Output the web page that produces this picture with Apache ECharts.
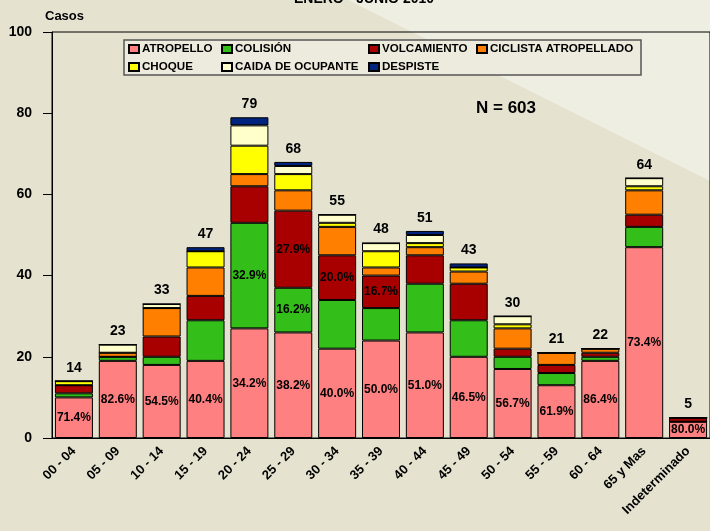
<!DOCTYPE html>
<html>
<head>
<meta charset="utf-8">
<script src="https://cdn.jsdelivr.net/npm/echarts@6/dist/echarts.min.js"></script>
<style>
  html, body { margin: 0; padding: 0; background: #e5e3d0; }
  #chart { width: 710px; height: 531px; }
</style>
</head>
<body>
<div id="chart"></div>
<script>
const categories = ["00 - 04", "05 - 09", "10 - 14", "15 - 19", "20 - 24", "25 - 29", "30 - 34",
  "35 - 39", "40 - 44", "45 - 49", "50 - 54", "55 - 59", "60 - 64", "65 y Mas", "Indeterminado"];

const atropello   = [10, 19, 18, 19, 27, 26, 22, 24, 26, 20, 17, 13, 19, 47, 4];
const colision    = [1, 1, 2, 10, 26, 11, 12, 8, 12, 9, 3, 3, 1, 5, 0];
const volcamiento = [2, 0, 5, 6, 9, 19, 11, 8, 7, 9, 2, 2, 1, 3, 1];
const ciclista    = [0, 1, 7, 7, 3, 5, 7, 2, 2, 3, 5, 3, 1, 6, 0];
const choque      = [1, 0, 0, 4, 7, 4, 1, 4, 1, 1, 1, 0, 0, 1, 0];
const caida       = [0, 2, 1, 0, 5, 2, 2, 2, 2, 0, 2, 0, 0, 2, 0];
const despiste    = [0, 0, 0, 1, 2, 1, 0, 0, 1, 1, 0, 0, 0, 0, 0];

// which bars show a percent label, per series
const labeledAtropello = categories.map((_, i) => i);
const labeledColision = [4, 5];
const labeledVolcamiento = [5, 6, 7];

const yTicks = [0, 20, 40, 60, 80, 100];

const FONT = "'Liberation Sans', Arial, sans-serif";

const allSeries = [atropello, colision, volcamiento, ciclista, choque, caida, despiste];
const totals = categories.map((_, i) => allSeries.reduce((s, arr) => s + arr[i], 0));
const grandTotal = totals.reduce((a, b) => a + b, 0);

function pctLabel(values, labeled) {
  return {
    show: true,
    position: "inside",
    color: "#000",
    fontWeight: "bold",
    fontSize: 12,
    fontFamily: FONT,
    formatter: (p) => labeled.includes(p.dataIndex)
      ? (values[p.dataIndex] / totals[p.dataIndex] * 100).toFixed(1) + "%"
      : "",
  };
}

function bar(name, data, color, label) {
  return {
    name,
    type: "bar",
    stack: "casos",
    data,
    barWidth: 38,
    itemStyle: { color, borderColor: "#000", borderWidth: 1 },
    label: label || { show: false },
  };
}

const chart = echarts.init(document.getElementById("chart"), null, { renderer: "canvas" });

const legendText = {
  color: "#000", fontWeight: "bold", fontSize: 11.6, fontFamily: FONT, lineHeight: 12,
  padding: [0, 0, 0, -2],
};
function legendCol(left, data) {
  return {
    orient: "vertical",
    left,
    top: 43,
    padding: 0,
    itemGap: 6,
    itemWidth: 10,
    itemHeight: 8,
    icon: "rect",
    selectedMode: false,
    textStyle: legendText,
    data,
  };
}

chart.setOption({
  backgroundColor: "#e5e3d0",
  animation: false,
  graphic: [
    {
      type: "polygon",
      z: -10,
      shape: { points: [[348, 0], [710, 0], [710, 181]] },
      style: { fill: "#eeeee2" },
      silent: true,
    },
    {
      type: "rect",
      z: 1,
      shape: { x: 124, y: 40, width: 517, height: 35 },
      style: { fill: "#ecebdd", stroke: "#555", lineWidth: 1.5 },
    },
    {
      type: "text",
      x: 364,
      y: -1,
      style: { text: "ENERO - JUNIO 2010", fill: "#000", font: "bold 14px " + FONT, align: "center", verticalAlign: "middle" },
    },
    {
      type: "text",
      x: 45,
      y: 10,
      style: { text: "Casos", fill: "#000", font: "bold 13px " + FONT },
    },
    {
      type: "text",
      x: 476,
      y: 100,
      z: 5,
      style: { text: "N = " + grandTotal, fill: "#000", font: "bold 17px " + FONT },
    },
  ],
  legend: [
    legendCol(128, ["ATROPELLO", "CHOQUE"]),
    legendCol(221, ["COLISIÓN", "CAIDA DE OCUPANTE"]),
    legendCol(368, ["VOLCAMIENTO", "DESPISTE"]),
    legendCol(476, ["CICLISTA ATROPELLADO"]),
  ],
  grid: {
    left: 52,
    top: 32,
    width: 660,
    height: 406,
    show: true,
    borderColor: "#000",
    borderWidth: 1,
    backgroundColor: "transparent",
  },
  xAxis: {
    type: "category",
    data: categories,
    axisLine: { lineStyle: { color: "#000", width: 1 } },
    axisTick: { alignWithLabel: true, length: 9, lineStyle: { color: "#000" } },
    axisLabel: {
      rotate: 45,
      margin: 11,
      color: "#000",
      fontWeight: "bold",
      fontSize: 13,
      fontFamily: FONT,
      interval: 0,
    },
  },
  yAxis: {
    type: "value",
    min: yTicks[0],
    max: yTicks[yTicks.length - 1],
    interval: yTicks[1] - yTicks[0],
    axisLine: { show: true, lineStyle: { color: "#000", width: 1 } },
    axisTick: { show: true, length: 9, lineStyle: { color: "#000" } },
    splitLine: { show: false },
    axisLabel: {
      margin: 20,
      color: "#000",
      fontWeight: "bold",
      fontSize: 14,
      fontFamily: FONT,
    },
  },
  series: [
    bar("ATROPELLO", atropello, "#ff8080", pctLabel(atropello, labeledAtropello)),
    bar("COLISIÓN", colision, "#33be1a", pctLabel(colision, labeledColision)),
    bar("VOLCAMIENTO", volcamiento, "#a80000", pctLabel(volcamiento, labeledVolcamiento)),
    bar("CICLISTA ATROPELLADO", ciclista, "#ff8000"),
    bar("CHOQUE", choque, "#ffff00"),
    bar("CAIDA DE OCUPANTE", caida, "#ffffcc"),
    bar("DESPISTE", despiste, "#00247d", {
      show: true,
      position: "top",
      distance: 6,
      color: "#000",
      fontWeight: "bold",
      fontSize: 14,
      fontFamily: FONT,
      formatter: (p) => String(totals[p.dataIndex]),
    }),
  ],
});
</script>
</body>
</html>
